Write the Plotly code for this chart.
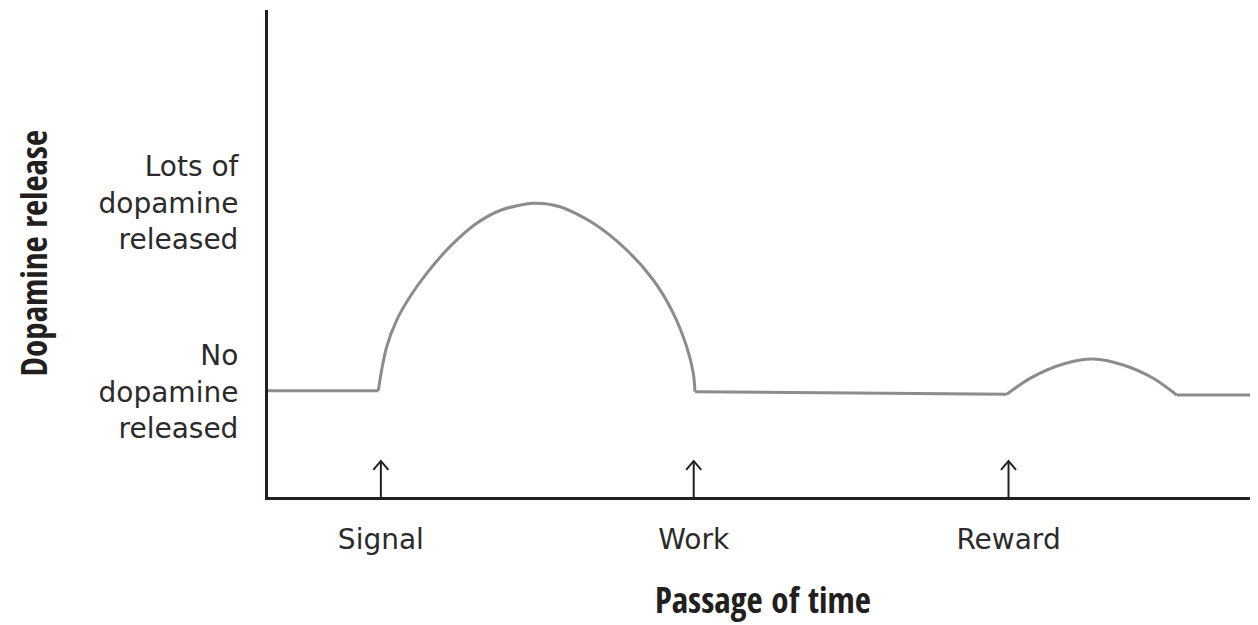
import plotly.graph_objects as go

# ---- data (time units 0-100, dopamine level units 0-100) ----
baseline_x1 = [0.0, 11.14]
baseline_y1 = [21.83, 21.83]

hump1_x = [11.14, 11.48, 11.99, 13.0, 14.34, 16.03, 18.38, 21.08, 23.57, 26.8,
           29.49, 32.86, 36.23, 38.92, 40.94, 42.29, 42.96, 43.13]
hump1_y = [21.83, 26.08, 30.86, 36.34, 41.13, 45.93, 51.4, 56.2, 58.93, 60.31,
           59.61, 56.2, 50.72, 44.56, 37.72, 30.86, 25.4, 21.62]

baseline_x2 = [43.13, 74.62]
baseline_y2 = [21.62, 21.09]

hump2_x = [74.62, 76.97, 80.33, 83.36, 86.39, 89.42, 91.79]
hump2_y = [21.09, 24.37, 27.31, 28.34, 27.1, 24.37, 20.94]

baseline_x3 = [91.79, 100.0]
baseline_y3 = [20.94, 20.94]

event_x = [11.4, 43.0, 74.8]
event_labels = ["Signal", "Work", "Reward"]

level_vals = [21.6, 60.4]
level_labels = ["No<br>dopamine<br>released", "Lots of<br>dopamine<br>released"]

x_title = "Passage of time"
y_title = "Dopamine release"

# ---- styles ----
curve_color = "#8c8c8c"
axis_color = "#231f20"
text_color = "#2b2b2b"
label_font = "DejaVu Sans, Open Sans, sans-serif"
title_font = "Open Sans Condensed, Roboto Condensed, sans-serif"

fig = go.Figure()
for xs, ys, shape in [
    (baseline_x1, baseline_y1, "linear"),
    (hump1_x, hump1_y, "spline"),
    (baseline_x2, baseline_y2, "linear"),
    (hump2_x, hump2_y, "spline"),
    (baseline_x3, baseline_y3, "linear"),
]:
    fig.add_trace(go.Scatter(x=xs, y=ys, mode="lines",
                             line=dict(color=curve_color, width=3, shape=shape, smoothing=0.8),
                             showlegend=False, hoverinfo="skip"))

# event arrows
arrow_top = 7.4
head_w = 0.76
head_h = 1.85
for ex in event_x:
    fig.add_shape(type="line", x0=ex, x1=ex, y0=0, y1=arrow_top,
                  line=dict(color=axis_color, width=2), xref="x", yref="y")
    fig.add_shape(type="path",
                  path=f"M {ex-head_w},{arrow_top-head_h} L {ex},{arrow_top} L {ex+head_w},{arrow_top-head_h}",
                  line=dict(color=axis_color, width=2), xref="x", yref="y")

# axis titles as annotations for exact placement
fig.add_annotation(text=x_title, xref="paper", yref="paper", x=0.5, y=0,
                   xanchor="center", yanchor="middle", yshift=-102, showarrow=False,
                   font=dict(family=title_font, size=35, color=axis_color, weight="bold"))
fig.add_annotation(text=y_title, xref="paper", yref="paper", x=0, y=0.5,
                   xanchor="center", yanchor="middle", xshift=-235, textangle=-90, showarrow=False,
                   font=dict(family=title_font, size=35, color=axis_color, weight="bold"))

fig.update_xaxes(range=[0, 100], showgrid=False, zeroline=False,
                 showline=True, linecolor=axis_color, linewidth=3,
                 tickvals=event_x, ticktext=event_labels, ticks="",
                 ticklabelstandoff=15,
                 tickfont=dict(family=label_font, size=28, color=text_color),
                 fixedrange=True)
fig.update_yaxes(range=[0, 100], showgrid=False, zeroline=False,
                 showline=True, linecolor=axis_color, linewidth=3,
                 tickvals=level_vals, ticktext=level_labels, ticks="",
                 ticklabelstandoff=21,
                 tickfont=dict(family=label_font, size=28, color=text_color),
                 fixedrange=True)

# page body adds an 8px margin; size the figure so the plot area lands where the reference has it
fig.update_layout(width=1250, height=617,
                  margin=dict(l=260, r=0, t=2, b=128),
                  plot_bgcolor="white", paper_bgcolor="white")

fig.write_html("out.html")
